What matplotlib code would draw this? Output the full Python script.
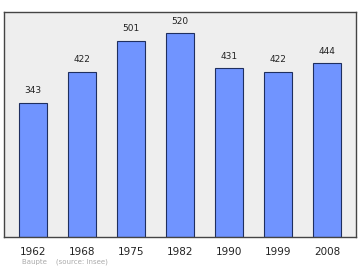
import matplotlib
matplotlib.use("Agg")
import matplotlib.pyplot as plt

years = ["1962", "1968", "1975", "1982", "1990", "1999", "2008"]
population = [343, 422, 501, 520, 431, 422, 444]

fig = plt.figure(figsize=(3.6, 2.7), dpi=100)
ax = fig.add_axes([0.011, 0.122, 0.978, 0.834])
ax.set_facecolor("#eeeeee")

x = range(len(years))
ax.bar(x, population, width=0.57, color="#7094ff", edgecolor="#1f2f5f", linewidth=0.8)
for i, v in zip(x, population):
    ax.text(i, v + 18, str(v), ha="center", va="bottom", fontsize=6.5, color="#222222")

ax.set_xlim(-0.59, len(years) - 0.41)
ax.set_ylim(0, 574)
ax.set_xticks(list(x))
ax.set_xticklabels(years, fontsize=7.5, color="#222222")
ax.tick_params(axis="x", length=0, pad=7)
ax.set_yticks([])
for s in ax.spines.values():
    s.set_color("#444444")
    s.set_linewidth(1.0)

fig.text(0.06, 0.025, "Baupte    (source: Insee)", fontsize=5, color="#aaaaaa")

fig.savefig("out.png", dpi=100)
